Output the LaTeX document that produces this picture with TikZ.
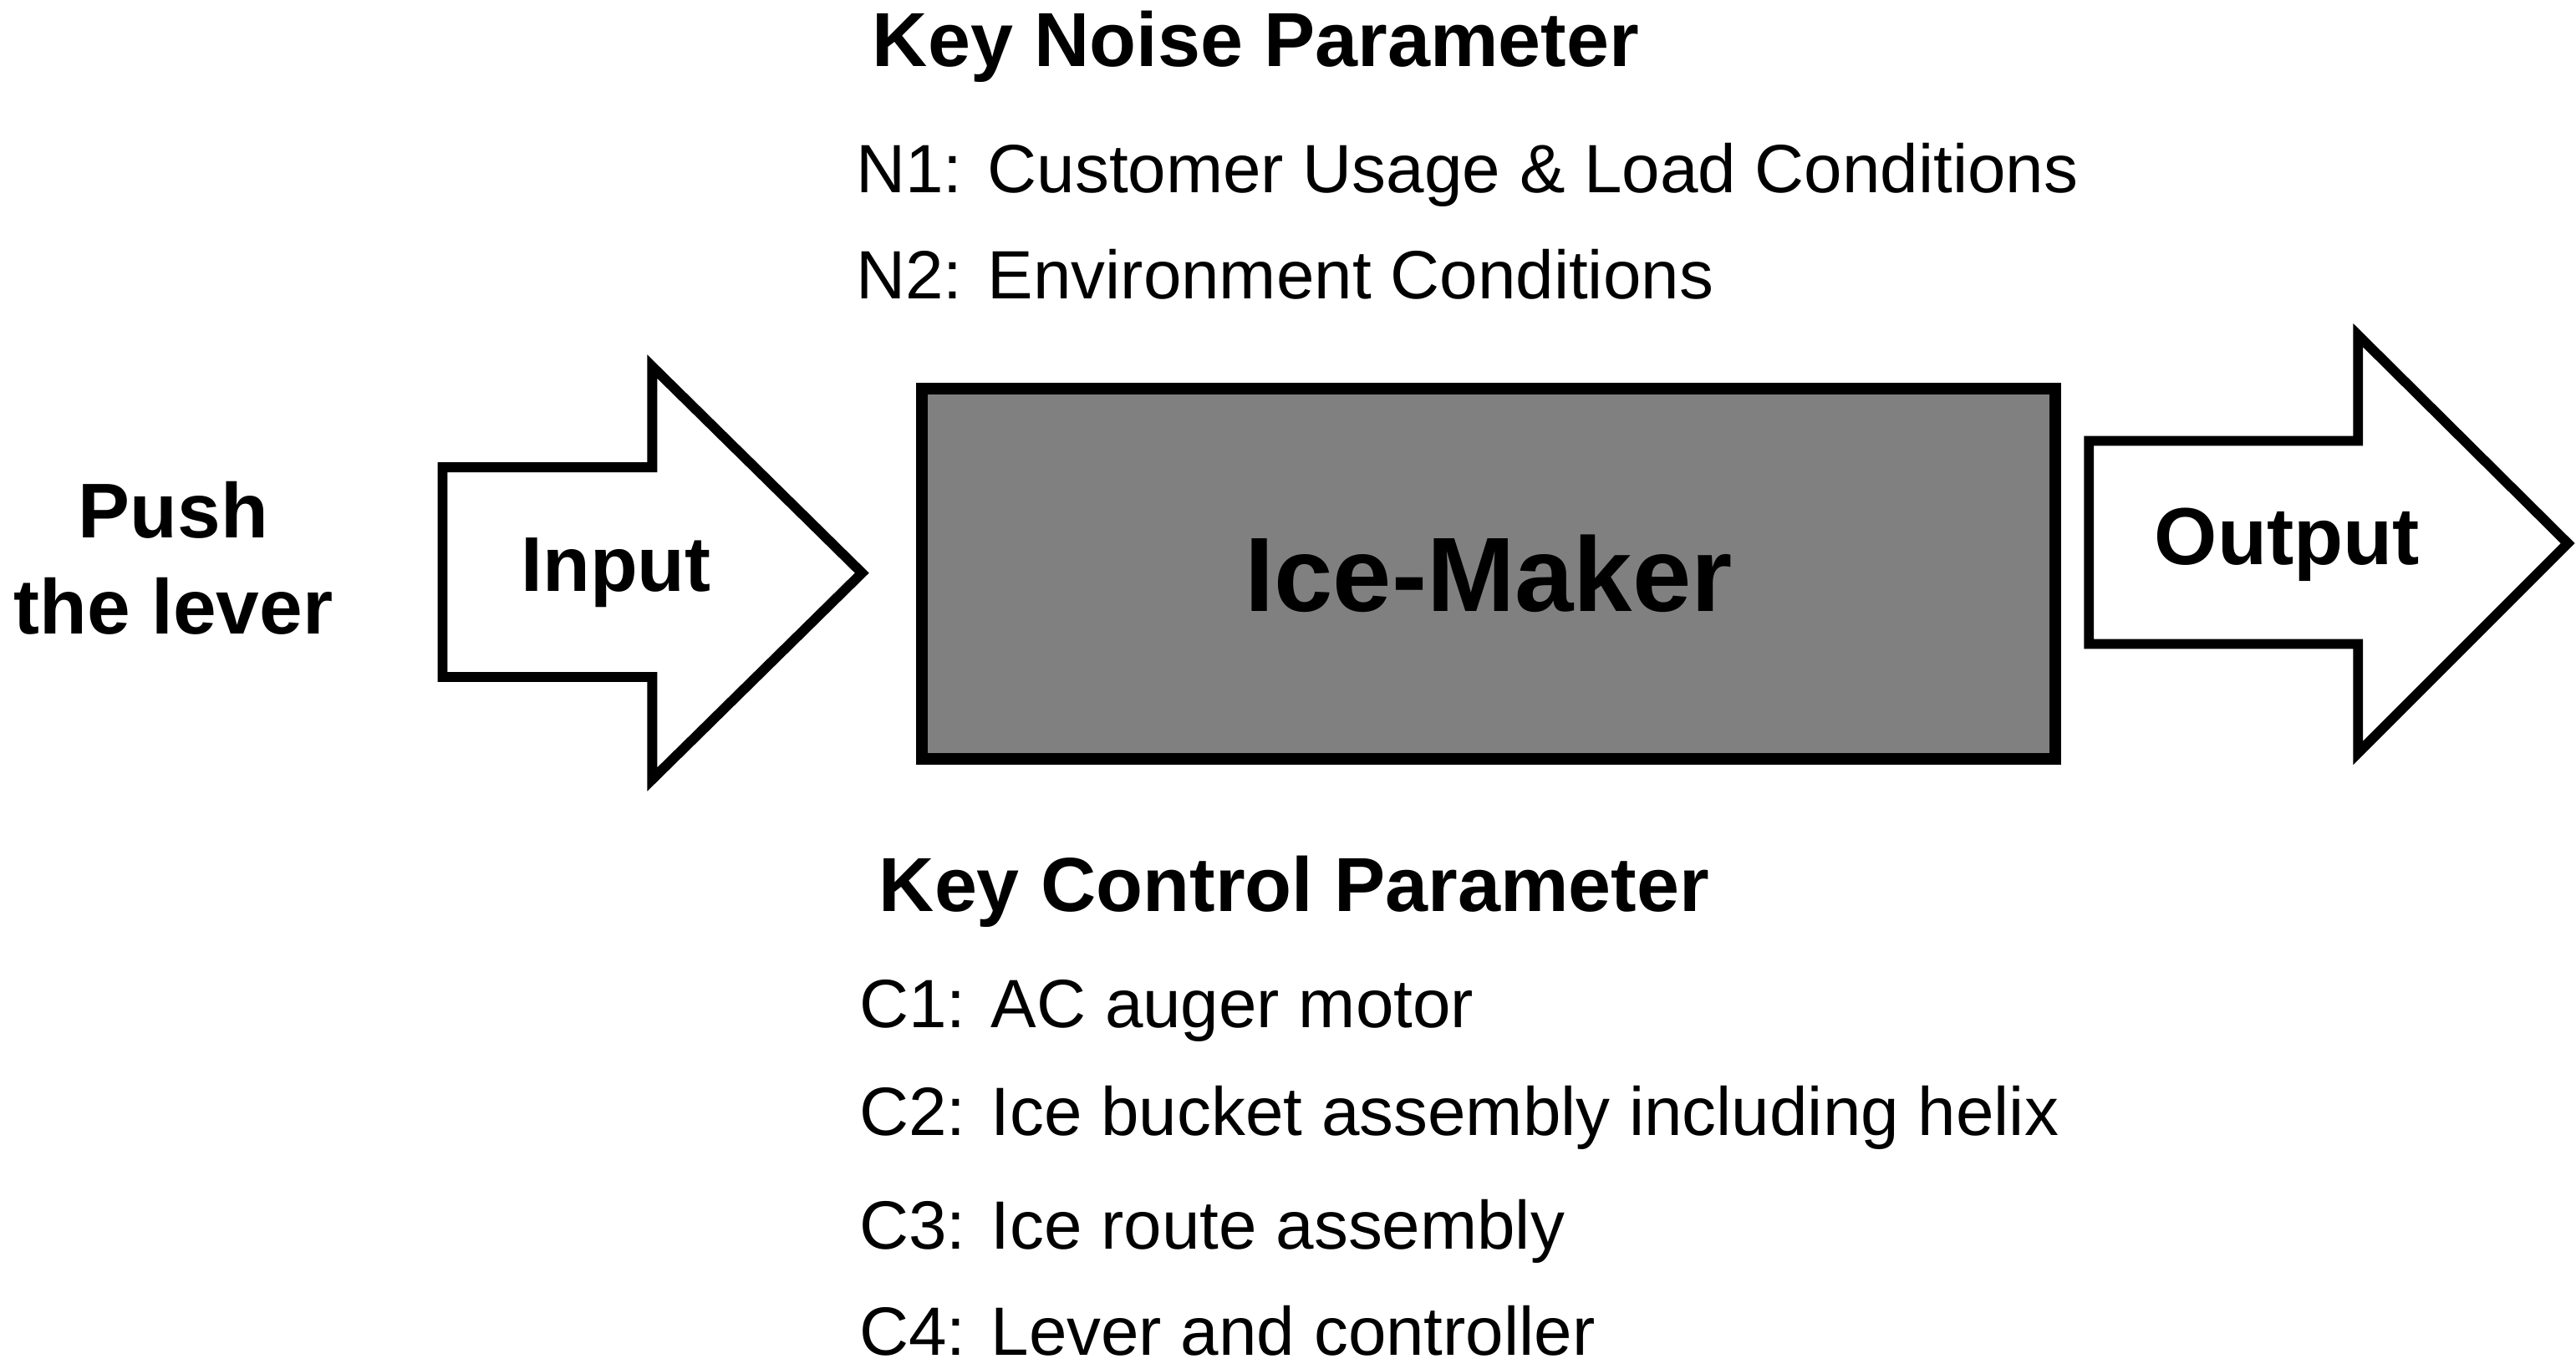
\documentclass[tikz,border=0pt]{standalone}
\usepackage{fontspec}
\setmainfont{Liberation Sans}
\begin{document}
\begin{tikzpicture}[x=0.5pt,y=-0.5pt,
  arr/.style={draw=black,line width=3pt,fill=white,line join=miter},
  lbl/.style={font=\fontsize{20.7}{24}\selectfont,anchor=west,inner sep=0},
  hd/.style={font=\fontsize{23.2}{26}\selectfont\bfseries,anchor=west,inner sep=0},
  big/.style={font=\fontsize{23.5}{26}\selectfont\bfseries,inner sep=0}]
\useasboundingbox (0,0) rectangle (1560,829);
\draw[arr] (268,283) -- (395,283) -- (395,222) -- (522,347) -- (395,472) -- (395,410) -- (268,410) -- cycle;
\draw[arr] (1265,267) -- (1428,267) -- (1428,203) -- (1555,329) -- (1428,456) -- (1428,390) -- (1265,390) -- cycle;
\node[draw=black,line width=3.5pt,fill=black!50,minimum width=343pt,minimum height=112pt,inner sep=0] (box) at (901.5,347.5) {};
\node[big,font=\fontsize{32}{36}\selectfont\bfseries] (ice) at (box) {Ice-Maker};
\node[big] (in) at (373,347) {Input};
\node[big,font=\fontsize{24.5}{28}\selectfont\bfseries] (out) at (1385,330) {Output};
\node[big,align=center,font=\fontsize{23.5}{29}\selectfont\bfseries] (push) at (105,338) {Push\\the lever};
\node[hd] (kn) at (528,28) {Key Noise Parameter};
\node[lbl] (n1) at (518,106) {N1: Customer Usage \& Load Conditions};
\node[lbl] (n2) at (518,166) {N2: Environment Conditions};
\node[hd] (kc) at (532,540) {Key Control Parameter};
\node[lbl] (c1) at (520,612) {C1: AC auger motor};
\node[lbl] (c2) at (520,677) {C2: Ice bucket assembly including helix};
\node[lbl] (c3) at (520,746) {C3: Ice route assembly};
\node[lbl] (c4) at (520,806) {C4: Lever and controller};
\end{tikzpicture}
\end{document}
